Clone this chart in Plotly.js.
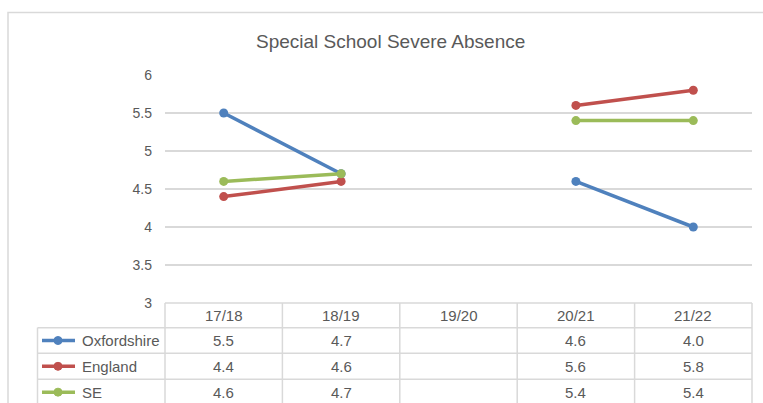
<!DOCTYPE html>
<html>
<head>
<meta charset="utf-8">
<script src="https://cdn.plot.ly/plotly-3.0.1.min.js"></script>
<style>
  html, body { margin: 0; padding: 0; background: #fff; }
  #chart { width: 763px; height: 403px; }
</style>
</head>
<body>
<div id="chart"></div>
<script>
const years = ["17/18", "18/19", "19/20", "20/21", "21/22"];
const oxfordshire = [5.5, 4.7, null, 4.6, 4.0];
const england = [4.4, 4.6, null, 5.6, 5.8];
const southEast = [4.6, 4.7, null, 5.4, 5.4];

const seriesNames = ["Oxfordshire", "England", "SE"];
const seriesValues = [oxfordshire, england, southEast];
const seriesColors = ["#4F81BD", "#C0504D", "#9BBB59"];

const grey = "#595959";
const border = "#D9D9D9";
const font = "Liberation Sans, Arial, sans-serif";

// plot area in pixels: left 165, right 752, top 75, bottom 303
const px = (x) => (x - 165) / 587;
const py = (y) => (303 - y) / 228;

const traces = seriesValues.map((vals, i) => ({
  x: years,
  y: vals,
  type: "scatter",
  mode: "lines+markers",
  name: seriesNames[i],
  connectgaps: false,
  line: { color: seriesColors[i], width: 3.5 },
  marker: { color: seriesColors[i], size: 9 },
  hoverinfo: "skip",
}));

const shapes = [];
const annotations = [];

// outer chart border
shapes.push({
  type: "rect", xref: "paper", yref: "paper",
  x0: px(8), x1: px(790), y0: py(430), y1: py(12.5),
  line: { color: border, width: 1.5 },
});

// data table grid
const colEdges = [165, 282.4, 399.8, 517.2, 634.6, 752];
const rowEdges = [303, 327.7, 353.3, 379.3, 405];
shapes.push({ type: "line", xref: "paper", yref: "paper",
  x0: px(165), x1: px(752), y0: py(rowEdges[0]), y1: py(rowEdges[0]),
  line: { color: border, width: 1.5 } });
for (let r = 1; r < rowEdges.length; r++) {
  shapes.push({ type: "line", xref: "paper", yref: "paper",
    x0: px(37.5), x1: px(752), y0: py(rowEdges[r]), y1: py(rowEdges[r]),
    line: { color: border, width: 1.5 } });
}
colEdges.forEach((c) => {
  shapes.push({ type: "line", xref: "paper", yref: "paper",
    x0: px(c), x1: px(c), y0: py(303), y1: py(405),
    line: { color: border, width: 1.5 } });
});
shapes.push({ type: "line", xref: "paper", yref: "paper",
  x0: px(37.5), x1: px(37.5), y0: py(327.7), y1: py(405),
  line: { color: border, width: 1.5 } });

const cellFont = { family: font, size: 15, color: grey };

// header row
years.forEach((yr) => {
  annotations.push({
    x: yr, xref: "x", y: py(315.5), yref: "paper",
    xanchor: "center", yanchor: "middle",
    text: yr, showarrow: false, font: cellFont,
  });
});

// series rows
seriesNames.forEach((name, i) => {
  const rowY = (rowEdges[i + 1] + rowEdges[i + 2]) / 2;
  shapes.push({ type: "line", xref: "paper", yref: "paper",
    x0: px(42), x1: px(75), y0: py(rowY), y1: py(rowY),
    line: { color: seriesColors[i], width: 3.5 } });
  shapes.push({ type: "circle", xref: "paper", yref: "paper",
    x0: px(54), x1: px(62), y0: py(rowY + 4), y1: py(rowY - 4),
    fillcolor: seriesColors[i], line: { color: seriesColors[i], width: 1 } });
  annotations.push({
    x: px(80), xref: "paper", y: py(rowY), yref: "paper",
    xanchor: "left", yanchor: "middle",
    text: name, showarrow: false, font: cellFont,
  });
  seriesValues[i].forEach((v, j) => {
    if (v === null) return;
    annotations.push({
      x: years[j], xref: "x", y: py(rowY), yref: "paper",
      xanchor: "center", yanchor: "middle",
      text: v.toFixed(1), showarrow: false, font: cellFont,
    });
  });
});

const layout = {
  width: 763,
  height: 403,
  margin: { l: 165, r: 11, t: 75, b: 100 },
  paper_bgcolor: "#fff",
  plot_bgcolor: "#fff",
  showlegend: false,
  title: {
    text: "Special School Severe Absence",
    x: 0.512, xanchor: "center",
    y: 1 - 41 / 403, yanchor: "middle",
    font: { family: font, size: 19, color: grey },
  },
  xaxis: {
    type: "category",
    range: [-0.5, 4.5],
    showticklabels: false,
    showgrid: false,
    zeroline: false,
    showline: false,
    fixedrange: true,
  },
  yaxis: {
    range: [3, 6],
    dtick: 0.5,
    tick0: 3,
    showgrid: true,
    gridcolor: border,
    gridwidth: 1.5,
    zeroline: false,
    showline: false,
    ticks: "",
    ticklabelstandoff: 12,
    tickfont: { family: font, size: 14, color: grey },
    fixedrange: true,
  },
  shapes: shapes,
  annotations: annotations,
};

Plotly.newPlot("chart", traces, layout, { displayModeBar: false, staticPlot: true });
</script>
</body>
</html>
